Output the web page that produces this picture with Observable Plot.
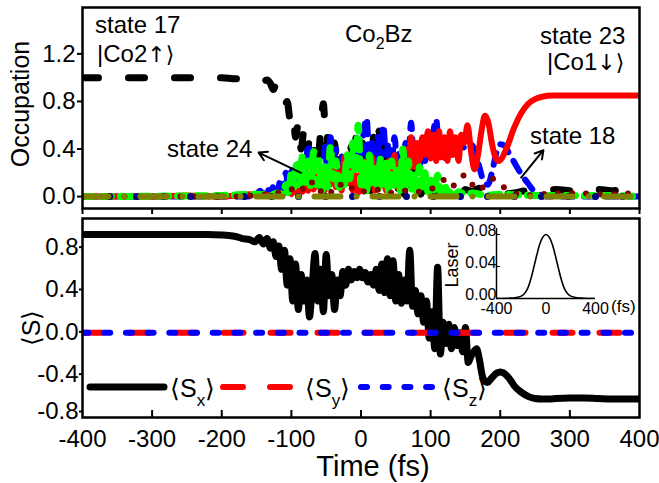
<!DOCTYPE html>
<html><head><meta charset="utf-8">
<script src="https://cdn.jsdelivr.net/npm/d3@7"></script>
<script src="https://cdn.jsdelivr.net/npm/@observablehq/plot@0.6"></script>
<style>
body{margin:0;background:#fff;}
#wrap{position:relative;width:659px;height:483px;overflow:hidden;}
#wrap > svg{position:absolute;}
</style></head><body><div id="wrap"></div>
<script>
const FONT = '"Liberation Sans", Arial, sans-serif';
// ---- axes ----
const xDomain = [-400, 400];
const xTicks = [-400, -300, -200, -100, 0, 100, 200, 300, 400];
const occDomain = [-0.1, 1.59];
const occTicks = [0, 0.4, 0.8, 1.2];
const spinDomain = [-0.8, 1.08];
const spinTicks = [-0.8, -0.4, 0, 0.4, 0.8];
const laserDomain = [0, 0.0875];
const laserTicks = [0, 0.04, 0.08];
const laserXTicks = [-400, 0, 400];

// ---- top panel: occupations [time fs, value] ----
const state17 = [[-400,1.0],[-200,1.0],[-180,0.99],[-170,0.99],[-160,0.98],[-150,0.97],[-145,0.96],[-140,0.97],[-135,0.98],[-130,0.95],[-126,0.9],[-122,0.94],[-118,0.86],[-114,0.82],[-110,0.76],[-106,0.8],[-102,0.66],[-98,0.72],[-94,0.5],[-90,0.62],[-86,0.4],[-82,0.55],[-78,0.32],[-74,0.48],[-70,0.26],[-66,0.44],[-62,0.3],[-58,0.55],[-54,0.78],[-50,0.4],[-46,0.62],[-42,0.25],[-38,0.45],[-34,0.15],[-30,0.38],[-26,0.1],[-22,0.3],[-18,0.12],[-14,0.42],[-10,0.2],[-6,0.6],[-2,0.25],[2,0.45],[6,0.1],[10,0.3],[14,0.05],[18,0.5],[22,0.2],[26,0.55],[30,0.1],[34,0.42],[38,0.05],[42,0.25],[46,0.08],[50,0.35],[54,0.05],[58,0.2],[62,0.02],[66,0.45],[70,0.1],[74,0.3],[78,0.04],[82,0.15],[86,0.02],[90,0.08],[94,0.01],[98,0.05],[102,0.02],[106,0.1],[110,0.03],[114,0.06],[118,0.01],[122,0.03],[126,0.01],[130,0.04],[135,0.02],[140,0.05],[145,0.03],[150,0.06],[160,0.04],[170,0.07],[180,0.05],[190,0.03],[200,0.02],[220,0.03],[240,0.05],[260,0.04],[280,0.06],[300,0.05],[320,0.04],[340,0.06],[360,0.05],[380,0.06],[400,0.05]];
const state18 = [[-400,0],[-160,0],[-150,0.02],[-145,0.05],[-140,0.01],[-135,0.08],[-130,0.02],[-125,0.1],[-120,0.03],[-116,0.14],[-112,0.05],[-108,0.2],[-104,0.06],[-100,0.25],[-96,0.1],[-92,0.3],[-88,0.15],[-84,0.35],[-80,0.2],[-76,0.44],[-72,0.25],[-68,0.38],[-64,0.15],[-60,0.3],[-56,0.1],[-52,0.42],[-48,0.2],[-44,0.5],[-40,0.25],[-36,0.4],[-32,0.15],[-28,0.35],[-24,0.1],[-20,0.3],[-16,0.2],[-12,0.45],[-8,0.25],[-4,0.5],[0,0.3],[4,0.55],[8,0.66],[12,0.35],[16,0.45],[20,0.2],[24,0.5],[28,0.3],[32,0.6],[36,0.35],[40,0.45],[44,0.25],[48,0.5],[52,0.3],[56,0.4],[60,0.2],[64,0.45],[68,0.35],[72,0.62],[76,0.3],[80,0.45],[84,0.25],[88,0.4],[92,0.3],[96,0.5],[100,0.35],[104,0.55],[108,0.65],[112,0.4],[116,0.5],[120,0.3],[124,0.45],[128,0.35],[132,0.42],[136,0.38],[140,0.44],[146,0.42],[152,0.4],[158,0.44],[164,0.38],[170,0.25],[176,0.13],[182,0.1],[188,0.2],[194,0.36],[200,0.44],[206,0.43],[212,0.37],[220,0.29],[230,0.19],[240,0.11],[248,0.05],[256,0.02],[266,0],[300,0],[350,0],[400,0]];
const state23 = [[-400,0],[-300,0],[-250,0.01],[-200,0],[-180,0.01],[-160,0.02],[-150,0.01],[-140,0.02],[-130,0.01],[-120,0.03],[-112,0.02],[-106,0.05],[-100,0.02],[-96,0.08],[-92,0.03],[-88,0.1],[-84,0.04],[-80,0.12],[-76,0.05],[-72,0.15],[-68,0.06],[-64,0.2],[-60,0.08],[-56,0.15],[-52,0.05],[-48,0.22],[-44,0.1],[-40,0.3],[-36,0.08],[-32,0.2],[-28,0.05],[-24,0.33],[-20,0.12],[-16,0.25],[-12,0.05],[-8,0.18],[-4,0.03],[0,0.2],[4,0.08],[8,0.3],[12,0.1],[16,0.33],[20,0.05],[24,0.25],[28,0.1],[32,0.2],[36,0.05],[40,0.3],[44,0.15],[48,0.35],[52,0.08],[56,0.28],[60,0.12],[64,0.4],[68,0.2],[72,0.5],[76,0.25],[80,0.45],[84,0.3],[88,0.5],[92,0.35],[96,0.55],[100,0.32],[104,0.52],[108,0.3],[112,0.55],[116,0.33],[120,0.5],[124,0.3],[128,0.55],[132,0.35],[136,0.5],[140,0.3],[144,0.52],[148,0.45],[153,0.6],[158,0.38],[163,0.23],[168,0.35],[173,0.55],[178,0.68],[183,0.62],[188,0.45],[193,0.33],[198,0.3],[203,0.33],[210,0.42],[220,0.58],[230,0.7],[240,0.78],[250,0.82],[260,0.84],[275,0.85],[300,0.85],[350,0.85],[400,0.85]];
const state24 = [[-400,0],[-200,0.01],[-150,0.02],[-130,0.01],[-120,0.03],[-112,0.02],[-108,0.1],[-104,0.03],[-100,0.2],[-96,0.08],[-92,0.3],[-88,0.1],[-84,0.35],[-80,0.12],[-76,0.3],[-72,0.08],[-68,0.38],[-64,0.1],[-60,0.3],[-56,0.05],[-52,0.25],[-48,0.08],[-44,0.42],[-40,0.15],[-36,0.3],[-32,0.05],[-28,0.2],[-24,0.1],[-20,0.35],[-16,0.15],[-12,0.45],[-8,0.2],[-4,0.6],[0,0.1],[4,0.3],[8,0.05],[12,0.35],[16,0.1],[20,0.25],[24,0.05],[28,0.32],[32,0.1],[36,0.28],[40,0.04],[44,0.3],[48,0.08],[52,0.25],[56,0.05],[60,0.4],[64,0.1],[68,0.3],[72,0.05],[76,0.2],[80,0.03],[84,0.25],[88,0.08],[92,0.2],[96,0.04],[100,0.15],[105,0.05],[110,0.18],[115,0.03],[120,0.1],[125,0.02],[130,0.06],[135,0.01],[140,0.04],[150,0.02],[160,0.03],[170,0.02],[180,0.01],[200,0.02],[250,0.01],[300,0.01],[350,0.01],[400,0]];
const stateMaroon = [[-400,0],[-200,0],[-150,0.01],[-120,0.03],[-100,0.06],[-90,0.1],[-80,0.05],[-70,0.12],[-60,0.04],[-50,0.08],[-40,0.03],[-30,0.1],[-20,0.05],[-10,0.08],[0,0.04],[20,0.06],[40,0.03],[60,0.05],[80,0.04],[100,0.06],[110,0.1],[120,0.14],[130,0.08],[140,0.15],[150,0.18],[160,0.1],[170,0.05],[180,0.12],[190,0.15],[200,0.1],[210,0.06],[220,0.03],[240,0.01],[260,0.02],[300,0.03],[350,0.02],[400,0.03]];
const stateNavy = [[-400,0],[400,0]];
const stateOlive = [[-400,0],[400,0]];
const arrows = [{x1:-86,y1:0.2,x2:-147,y2:0.37},{x1:230,y1:0.16,x2:262,y2:0.39}];

// ---- bottom panel: spin ----
const spinX = [[-400,0.93],[-300,0.93],[-250,0.93],[-220,0.93],[-200,0.925],[-190,0.92],[-180,0.91],[-170,0.89],[-160,0.88],[-152,0.86],[-146,0.9],[-140,0.84],[-135,0.89],[-130,0.8],[-126,0.86],[-122,0.72],[-118,0.82],[-114,0.6],[-110,0.78],[-106,0.45],[-102,0.7],[-98,0.3],[-94,0.65],[-90,0.22],[-86,0.55],[-82,0.3],[-78,0.5],[-74,0.15],[-70,0.45],[-66,0.75],[-62,0.3],[-58,0.6],[-54,0.2],[-50,0.74],[-46,0.35],[-42,0.55],[-38,0.22],[-34,0.5],[-30,0.35],[-26,0.58],[-22,0.45],[-18,0.6],[-14,0.5],[-10,0.58],[-6,0.52],[-2,0.6],[2,0.52],[6,0.57],[10,0.48],[14,0.55],[18,0.45],[22,0.6],[26,0.4],[30,0.65],[34,0.38],[38,0.7],[42,0.35],[46,0.68],[50,0.3],[54,0.55],[58,0.28],[62,0.5],[66,0.3],[70,0.78],[74,0.25],[78,0.4],[82,0.18],[86,0.35],[90,0.1],[94,0.3],[98,-0.05],[102,0.2],[106,-0.15],[110,0.62],[114,-0.2],[118,0.1],[122,-0.1],[126,0.08],[130,-0.15],[134,0.05],[138,-0.12],[142,0.0],[146,-0.18],[150,0.05],[154,-0.28],[158,-0.22],[162,-0.18],[166,-0.15],[170,-0.25],[174,-0.4],[178,-0.46],[182,-0.47],[186,-0.44],[190,-0.41],[195,-0.38],[200,-0.37],[205,-0.38],[210,-0.41],[215,-0.45],[220,-0.5],[230,-0.56],[240,-0.6],[250,-0.62],[260,-0.625],[270,-0.625],[280,-0.62],[300,-0.615],[320,-0.615],[340,-0.62],[360,-0.625],[380,-0.625],[400,-0.625]];
const spinY = [[-400,0],[400,0]];
const spinZ = [[-400,0],[400,0]];

// ---- inset: laser ----
const laser = [[-400,0],[-300,0.0004],[-250,0.001],[-200,0.003],[-175,0.006],[-150,0.012],[-125,0.023],[-100,0.038],[-75,0.054],[-50,0.068],[-25,0.077],[0,0.08],[25,0.077],[50,0.068],[75,0.054],[100,0.038],[125,0.023],[150,0.012],[175,0.006],[200,0.003],[250,0.001],[300,0.0004],[400,0]];

// ---- styles ----
const black = "#000000", red = "#ff0000", blue = "#0000ff", green = "#00ff00", maroon = "#800000", navy = "#000080", olive = "#808000";
const rows = arr => arr.map(([t, v]) => ({t, v}));
const line = (arr, o) => Plot.line(rows(arr), {x: "t", y: "v", curve: "monotone-x", strokeLinecap: "round", strokeLinejoin: "round", clip: true, ...o});
const baseStyle = size => ({background: "transparent", fontFamily: FONT, fontSize: size, color: "#000", overflow: "visible"});

const topPlot = Plot.plot({
  width: 659, height: 215, marginLeft: 82, marginRight: 20, marginTop: 7, marginBottom: 7,
  style: baseStyle("24px"),
  x: {domain: xDomain}, y: {domain: occDomain},
  marks: [
    line(state17, {stroke: black, strokeWidth: 7, strokeDasharray: "16,30"}),
    line(state18, {stroke: blue, strokeWidth: 6, strokeDasharray: "12,10"}),
    line(state23, {stroke: red, strokeWidth: 6}),
    line(state24, {stroke: green, strokeWidth: 7, strokeDasharray: "10,9"}),
    line(stateMaroon, {stroke: maroon, strokeWidth: 6, strokeDasharray: "0,14"}),
    line(stateNavy, {stroke: navy, strokeWidth: 7, strokeDasharray: "0,27"}),
    line(stateOlive, {stroke: olive, strokeWidth: 6, strokeDasharray: "26,16,0,16"}),
    Plot.arrow(arrows, {x1: "x1", y1: "y1", x2: "x2", y2: "y2", stroke: black, strokeWidth: 2, headLength: 7}),
    Plot.frame({stroke: black, strokeWidth: 2.5}),
    Plot.axisY({ticks: occTicks, tickSize: 5, tickPadding: 2, strokeWidth: 2, tickFormat: d => d.toFixed(1), label: null}),
    Plot.axisX({ticks: xTicks, tickSize: 6, strokeWidth: 2, tickFormat: () => "", label: null})
  ]
});

const frameH = 273 - 8 - 66;
const bottomPlot = Plot.plot({
  width: 659, height: 273, marginLeft: 82, marginRight: 20, marginTop: 8, marginBottom: 66,
  style: baseStyle("24px"),
  x: {domain: xDomain}, y: {domain: spinDomain},
  marks: [
    line(spinX, {stroke: black, strokeWidth: 7}),
    line(spinY, {stroke: red, strokeWidth: 6, strokeDasharray: "20,27"}),
    line(spinZ, {stroke: blue, strokeWidth: 6, strokeDasharray: "6,15.7"}),
    Plot.ruleX(xTicks.slice(1, -1), {stroke: black, strokeWidth: 2, insetTop: frameH - 7}),
    Plot.frame({stroke: black, strokeWidth: 2.5}),
    Plot.axisY({ticks: spinTicks.slice(1), tickSize: 3, tickPadding: 1, strokeWidth: 2, dy: -1, tickFormat: d => d.toFixed(1), label: null}),
    Plot.axisY({ticks: spinTicks.slice(0, 1), tickSize: 3, tickPadding: 1, strokeWidth: 2, dy: -6, tickFormat: d => d.toFixed(1), label: null}),
    Plot.axisX({ticks: xTicks, tickSize: 0, tickPadding: 12, tickFormat: d => String(d), label: null})
  ]
});

const insetPlot = Plot.plot({
  width: 180, height: 100, marginLeft: 66, marginRight: 15, marginTop: 10, marginBottom: 20,
  style: baseStyle("16px"),
  x: {domain: xDomain}, y: {domain: laserDomain},
  marks: [
    Plot.ruleX([xDomain[0]], {stroke: black, strokeWidth: 1.5}),
    Plot.ruleY([laserDomain[0]], {stroke: black, strokeWidth: 1.5}),
    Plot.ruleY(laserTicks.slice(1), {stroke: black, strokeWidth: 1, insetRight: 95}),
    line(laser, {stroke: black, strokeWidth: 1.6, curve: "catmull-rom"}),
    Plot.axisY({ticks: laserTicks, tickSize: 0, tickPadding: 0, dy: -4, tickFormat: d => d.toFixed(2), label: null}),
    Plot.axisX({ticks: laserXTicks, tickSize: 0, tickPadding: 4, tickFormat: d => String(d), label: null})
  ]
});

const wrap = document.getElementById("wrap");
topPlot.style.left = "0px"; topPlot.style.top = "0px";
bottomPlot.style.left = "0px"; bottomPlot.style.top = "210px";
insetPlot.style.left = "430px"; insetPlot.style.top = "218px";
wrap.appendChild(topPlot);
wrap.appendChild(bottomPlot);
wrap.appendChild(insetPlot);

// ---- text annotations, axis titles and legend ----
const ns = "http://www.w3.org/2000/svg";
const ann = document.createElementNS(ns, "svg");
ann.setAttribute("width", 659); ann.setAttribute("height", 483);
ann.style.left = "0px"; ann.style.top = "0px"; ann.style.fontFamily = FONT;
const AR = 'font-family="DejaVu Sans" font-size="22"';
ann.innerHTML = `
<g fill="#000" font-size="24">
  <text x="95" y="33">state 17</text>
  <text x="97" y="62">|Co2<tspan ${AR}>↑⟩</tspan></text>
  <text x="345" y="42">Co<tspan font-size="16" dy="7">2</tspan><tspan dy="-7">Bz</tspan></text>
  <text x="540" y="44">state 23</text>
  <text x="547" y="70">|Co1<tspan ${AR}>↓⟩</tspan></text>
  <text x="530" y="144">state 18</text>
  <text x="167" y="157">state 24</text>
</g>
<text transform="translate(29,104) rotate(-90)" text-anchor="middle" font-size="25">Occupation</text>
<text transform="translate(40,328) rotate(-90)" text-anchor="middle" font-size="25">⟨S⟩</text>
<text x="373" y="476" text-anchor="middle" font-size="29">Time (fs)</text>
<text transform="translate(458,265) rotate(-90)" text-anchor="middle" font-size="18">Laser</text>
<text x="611" y="312" font-size="17">(fs)</text>
<line x1="90" x2="164" y1="387" y2="387" stroke="#000" stroke-width="7" stroke-linecap="round"/>
<line x1="223" x2="290" y1="387" y2="387" stroke="#ff0000" stroke-width="6" stroke-linecap="round" stroke-dasharray="20,27"/>
<line x1="361" x2="432" y1="387" y2="387" stroke="#0000ff" stroke-width="6" stroke-linecap="round" stroke-dasharray="6,15.7"/>
<g font-size="25">
  <text x="170" y="397">⟨S<tspan font-size="17" dy="9">x</tspan><tspan dy="-9">⟩</tspan></text>
  <text x="305" y="397">⟨S<tspan font-size="17" dy="9">y</tspan><tspan dy="-9">⟩</tspan></text>
  <text x="442" y="397">⟨S<tspan font-size="17" dy="9">z</tspan><tspan dy="-9">⟩</tspan></text>
</g>`;
wrap.appendChild(ann);
</script>
</body></html>
